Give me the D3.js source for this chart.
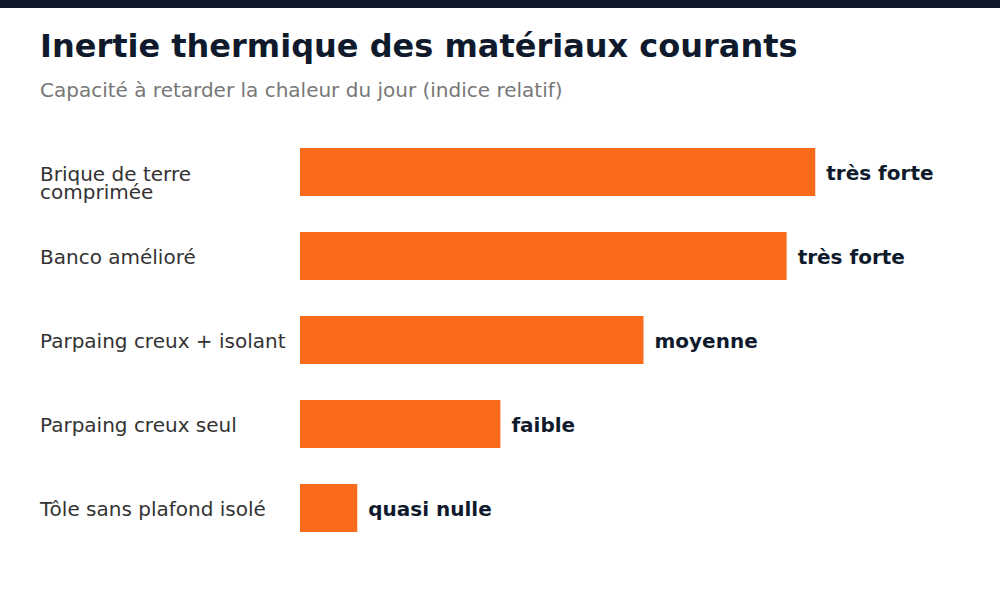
<!DOCTYPE html>
<html><head><meta charset="utf-8">
<script src="https://cdn.jsdelivr.net/npm/d3@7"></script>
<style>body{margin:0;background:#fff}svg{display:block}</style>
</head><body>
<script>
const categories = ["Brique de terre comprimée", "Banco amélioré", "Parpaing creux + isolant", "Parpaing creux seul", "Tôle sans plafond isolé"];
const labelLines = [["Brique de terre", "comprimée"], ["Banco amélioré"], ["Parpaing creux + isolant"], ["Parpaing creux seul"], ["Tôle sans plafond isolé"]];
const values = [90, 85, 60, 35, 10];
const valueLabels = ["très forte", "très forte", "moyenne", "faible", "quasi nulle"];

const W = 1000, H = 600;
const svg = d3.select("body").append("svg").attr("width", W).attr("height", H);
const font = "DejaVu Sans, sans-serif";

svg.append("rect").attr("x", 0).attr("y", 0).attr("width", W).attr("height", 8).attr("fill", "#0f1b2d");
svg.append("text").attr("x", 40).attr("y", 57).attr("font-family", font).attr("font-size", 32).attr("font-weight", "bold").attr("fill", "#0f1b2d").text("Inertie thermique des matériaux courants");
svg.append("text").attr("x", 40).attr("y", 97).attr("font-family", font).attr("font-size", 20).attr("fill", "#777").text("Capacité à retarder la chaleur du jour (indice relatif)");

const x = d3.scaleLinear().domain([0, 100]).range([300, 872.5]);
const y = d3.scaleBand().domain(categories).range([130, 550]).paddingInner(36/84).paddingOuter(18/84);

const g = svg.append("g");
categories.forEach((c, i) => {
  const yc = y(c) + y.bandwidth() / 2;
  g.append("rect").attr("x", x(0)).attr("y", y(c)).attr("width", x(values[i]) - x(0)).attr("height", y.bandwidth()).attr("fill", "#f96a1b");
  const lines = labelLines[i];
  const t = g.append("text").attr("x", 40).attr("font-family", font).attr("font-size", 20).attr("fill", "#333");
  const lh = 18.5;
  const off = lines.length > 1 ? 1.5 : 1;
  lines.forEach((l, j) => {
    t.append("tspan").attr("x", 40).attr("y", yc + off + j * lh).attr("dy", "0.35em").text(l);
  });
  g.append("text").attr("x", x(values[i]) + 11).attr("y", yc + 1).attr("dy", "0.35em").attr("font-family", font).attr("font-size", 20).attr("font-weight", "bold").attr("fill", "#0f1b2d").text(valueLabels[i]);
});
</script>
</body></html>
